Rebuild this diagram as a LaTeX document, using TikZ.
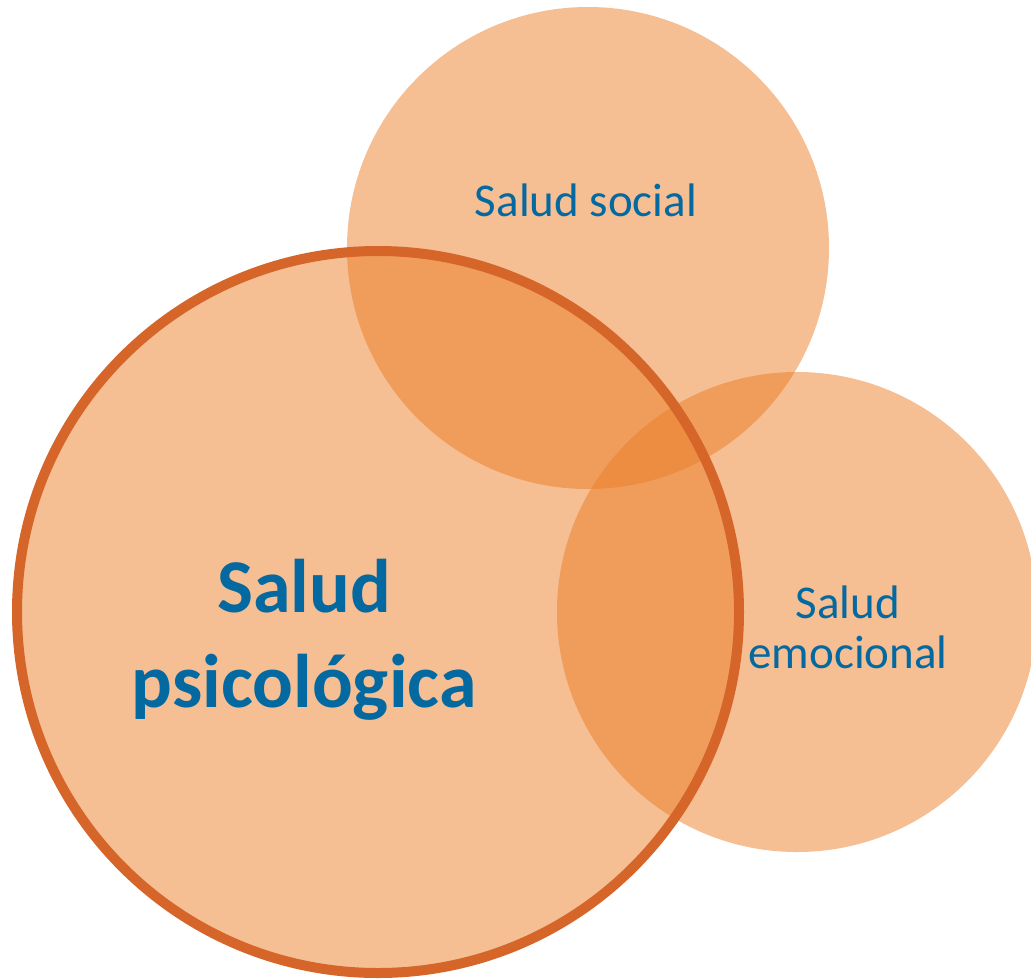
\documentclass[tikz,border=0pt]{standalone}
\usepackage{fontspec}
\setmainfont{Carlito}
\definecolor{fillor}{HTML}{EB7D27}
\definecolor{ringor}{HTML}{D6652A}
\definecolor{txtblue}{HTML}{0369A0}
\begin{document}
\begin{tikzpicture}[x=1pt,y=-1pt,
  bubble/.style={circle,fill=fillor,fill opacity=0.5,inner sep=0pt,draw=none},
  lbl/.style={text=txtblue,align=center,inner sep=0pt}]
\useasboundingbox (0,0) rectangle (1031,978);
\node[bubble,minimum size=728pt] (psi) at (378,612) {};
\node[bubble,minimum size=482pt] (soc) at (588,248) {};
\node[bubble,minimum size=480pt] (emo) at (797,612) {};
\draw[ringor,line width=10pt] (psi.center) circle[radius=361];
\node[lbl,font=\fontsize{76}{95}\selectfont\bfseries] (tpsi) at (304,640) {Salud\\psicológica};
\node[lbl,font=\fontsize{47}{50}\selectfont] (tsoc) at (586,200) {Salud social};
\node[lbl,font=\fontsize{47}{50}\selectfont] (temo) at (848,627) {Salud\\emocional};
\end{tikzpicture}
\end{document}
